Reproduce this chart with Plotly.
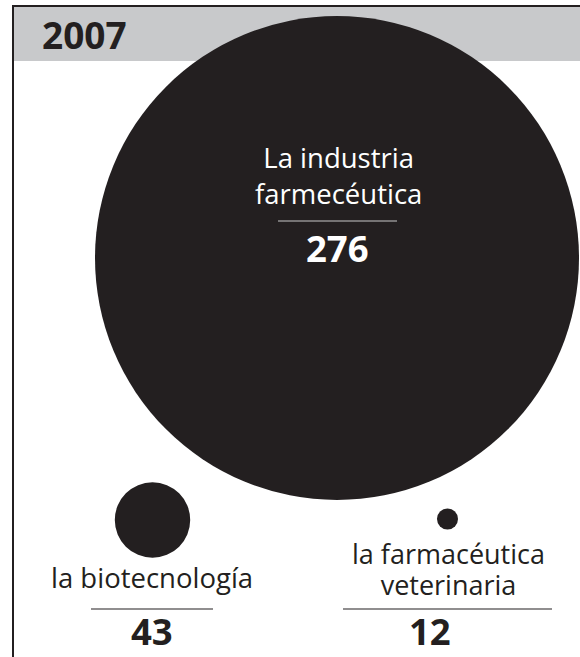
import plotly.graph_objects as go

# ---------------- data ----------------
year_label = "2007"
label_lines = [["La industria", "farmecéutica"],
               ["la biotecnología"],
               ["la farmacéutica", "veterinaria"]]
values = [276, 43, 12]

# ---------------- layout / styling ----------------
W, H = 580, 657
DARK = "#231f20"
GRAY = "#c8c9cb"
FONT = "Open Sans"

centers = [(337, 258), (152.5, 520), (447.5, 519)]
px_per_unit = 242 / 276.0          # radius is proportional to value
label_baselines = [[167, 203], [587], [563, 594]]
label_colors = ["white", DARK, DARK]
label_glyph_sizes = [27.5, 27.5, 27]
label_spacing_sizes = [27.5, 27.5, 24]   # base size -> line spacing (1.3 x size)
label_centers_x = [338, 152, 448]
divider_y = [221, 609, 609]
divider_x = [(278, 397), (91, 213), (343, 552)]
divider_colors = ["#c8c8c8", DARK, DARK]
value_y = [248, 631, 631]
value_x = [337, 151.5, 430]
value_size = 36.5

shapes = []
# header bar
shapes.append(dict(type="rect", xref="x", yref="y", x0=13, x1=W, y0=7, y1=61,
                   fillcolor=GRAY, line=dict(width=0), layer="below"))
# circles
for (cx, cy), v in zip(centers, values):
    r = v * px_per_unit
    shapes.append(dict(type="circle", xref="x", yref="y",
                       x0=cx - r, x1=cx + r, y0=cy - r, y1=cy + r,
                       fillcolor=DARK, line=dict(width=0)))
# frame
shapes.append(dict(type="line", xref="x", yref="y", x0=12, x1=W, y0=6, y1=6,
                   line=dict(color=DARK, width=2)))
shapes.append(dict(type="line", xref="x", yref="y", x0=13, x1=13, y0=6, y1=H,
                   line=dict(color=DARK, width=2)))
# dividers
for (x0, x1), y, c in zip(divider_x, divider_y, divider_colors):
    shapes.append(dict(type="line", xref="x", yref="y", x0=x0, x1=x1, y0=y, y1=y,
                       line=dict(color=c, width=1.2)))

annotations = []
annotations.append(dict(x=40, y=34, xref="x", yref="y", text=f"<b>{year_label}</b>",
                        showarrow=False, xanchor="left", yanchor="middle",
                        font=dict(family=FONT, size=37, color=DARK)))
for lines, bases, col, gsz, ssz, lx in zip(label_lines, label_baselines, label_colors,
                                           label_glyph_sizes, label_spacing_sizes,
                                           label_centers_x):
    if gsz != ssz:
        txt = "<br>".join(f'<span style="font-size:{gsz}px">{t}</span>' for t in lines)
    else:
        txt = "<br>".join(lines)
    yc = sum(bases) / len(bases) - 0.36 * gsz
    annotations.append(dict(x=lx, y=yc, xref="x", yref="y", text=txt,
                            showarrow=False, xanchor="center", yanchor="middle",
                            align="center",
                            font=dict(family=FONT, size=ssz, color=col)))
for v, x, y, col in zip(values, value_x, value_y, label_colors):
    annotations.append(dict(x=x, y=y, xref="x", yref="y", text=f"<b>{v}</b>",
                            showarrow=False, xanchor="center", yanchor="middle",
                            font=dict(family=FONT, size=value_size, color=col)))

fig = go.Figure()
fig.add_trace(go.Scatter(x=[0, W], y=[0, H], mode="markers",
                         marker=dict(opacity=0), hoverinfo="skip", showlegend=False))
fig.update_layout(
    width=W, height=H, margin=dict(l=0, r=0, t=0, b=0),
    paper_bgcolor="white", plot_bgcolor="white",
    xaxis=dict(range=[0, W], visible=False, fixedrange=True),
    yaxis=dict(range=[H, 0], visible=False, fixedrange=True),
    shapes=shapes, annotations=annotations, showlegend=False,
)
fig.write_html(
    "out.html",
    config={"displayModeBar": False},
    post_script="document.body.style.margin='0';document.body.style.overflow='hidden';",
)
